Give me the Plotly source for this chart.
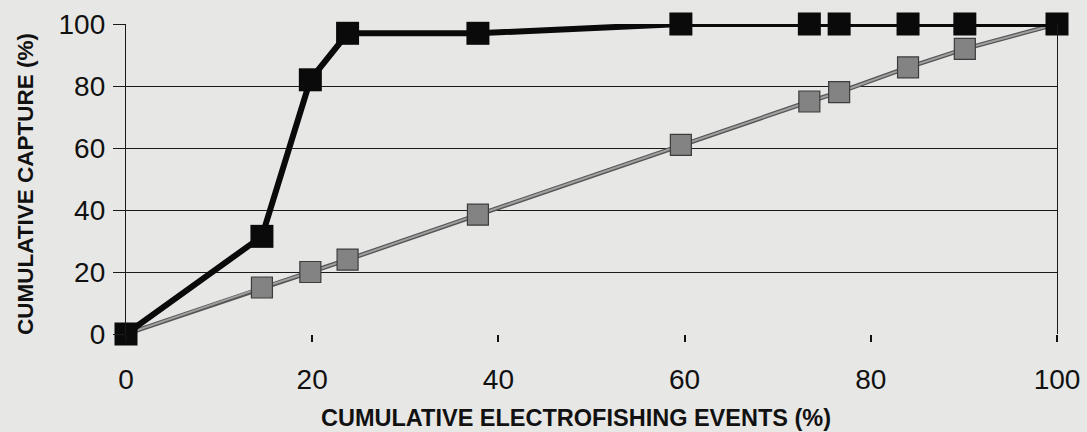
import plotly.graph_objects as go

# Cumulative electrofishing events (%) for each sampling step
events_pct = [0, 14.6, 19.8, 23.8, 37.8, 59.6, 73.4, 76.6, 84.0, 90.1, 100]
# Cumulative capture (%) – observed catch
capture_obs = [0, 31.5, 82, 97, 97, 100, 100, 100, 100, 100, 100]
# Cumulative capture (%) – reference (proportional) series
capture_ref = [0, 15, 20, 24, 38.5, 61, 75, 78, 86, 92, 100]

x_ticks = [0, 20, 40, 60, 80, 100]
y_ticks = [0, 20, 40, 60, 80, 100]

FONT = "Liberation Sans, Arial, sans-serif"
BG = "#e7e7e5"
W, H = 1087, 432
ML, MR, MT, MB = 126, 30, 24, 98
PW, PH = W - ML - MR, H - MT - MB

fig = go.Figure()

# Reference series: dark edge under a lighter core gives the outlined gray line
fig.add_trace(go.Scatter(
    x=events_pct, y=capture_ref, mode="lines",
    line=dict(color="#555555", width=4.5), hoverinfo="skip", showlegend=False,
))
fig.add_trace(go.Scatter(
    x=events_pct, y=capture_ref, mode="lines+markers",
    line=dict(color="#a0a0a0", width=2),
    marker=dict(symbol="square", size=21, color="#838383",
                line=dict(color="#3c3c3c", width=1.2)),
    showlegend=False,
))
# Observed series
fig.add_trace(go.Scatter(
    x=events_pct, y=capture_obs, mode="lines+markers",
    line=dict(color="#0a0a0a", width=6),
    marker=dict(symbol="square", size=23, color="#0a0a0a"),
    showlegend=False, cliponaxis=False,
))

fig.update_layout(
    width=W, height=H,
    margin=dict(l=ML, r=MR, t=MT, b=MB, autoexpand=False),
    paper_bgcolor=BG, plot_bgcolor=BG,
    font=dict(family=FONT, color="#111111"),
    xaxis=dict(
        range=[0, 100], tickvals=x_ticks, ticktext=[str(v) for v in x_ticks],
        showgrid=False, zeroline=False, showline=False, automargin=False,
        ticks="outside", ticklen=7, tickwidth=1.5, tickcolor="#111111",
        tickfont=dict(size=28), ticklabelstandoff=13,
    ),
    yaxis=dict(
        range=[0, 100], tickvals=y_ticks, ticktext=[str(v) for v in y_ticks],
        showgrid=True, gridcolor="#1a1a1a", gridwidth=1.3,
        zeroline=False, showline=True, linecolor="#1a1a1a", linewidth=1.3,
        mirror=True, automargin=False,
        ticks="outside", ticklen=12, tickwidth=1.3, tickcolor="#1a1a1a",
        tickfont=dict(size=28), ticklabelstandoff=2,
    ),
    annotations=[
        dict(text="<b>CUMULATIVE ELECTROFISHING EVENTS (%)</b>",
             xref="paper", yref="paper",
             x=(576 - ML) / PW, y=-(418 - MT - PH) / PH,
             xanchor="center", yanchor="middle", showarrow=False,
             font=dict(size=23.5)),
        dict(text="<b>CUMULATIVE CAPTURE (%)</b>",
             xref="paper", yref="paper",
             x=(25 - ML) / PW, y=(H - MB - 184) / PH,
             xanchor="center", yanchor="middle", showarrow=False,
             textangle=-90, font=dict(size=22.5)),
    ],
)

fig.write_html("out.html")
